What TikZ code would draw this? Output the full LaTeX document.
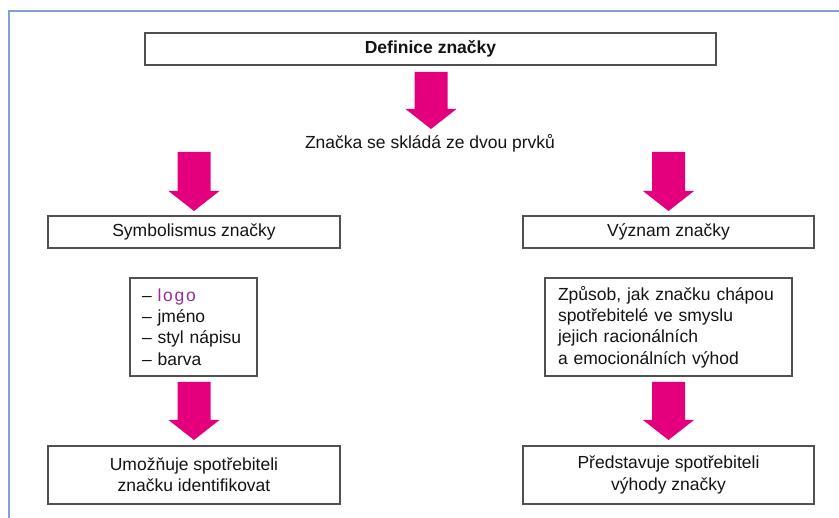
\documentclass[tikz,border=0pt]{standalone}
\usepackage{fontspec}
\setmainfont{Liberation Sans}
\definecolor{mag}{RGB}{228,0,124}
\definecolor{logoc}{RGB}{155,45,145}
\definecolor{framec}{RGB}{130,160,215}
\definecolor{boxline}{RGB}{80,80,80}
\definecolor{txt}{RGB}{20,20,20}
\newcommand\blockarrow[3]{\fill[mag] ({#1-16.5},#2) -- ({#1+16.5},#2) -- ({#1+16.5},{#3-20}) -- ({#1+25.5},{#3-20}) -- (#1,#3) -- ({#1-25.5},{#3-20}) -- ({#1-16.5},{#3-20}) -- cycle;}
\begin{document}
\begin{tikzpicture}[x=1pt,y=-1pt,
  box/.style={draw=boxline, line width=1.3pt, fill=white, text=txt, font=\fontsize{17.5}{21.3}\selectfont, inner sep=0pt, align=center},
  lbl/.style={text=txt, font=\fontsize{17.5}{21.3}\selectfont, inner sep=0pt}]
\useasboundingbox (0,0) rectangle (839,518);
\fill[white, overlay] (-5,-5) rectangle (845,525);
\draw[framec, line width=1.5pt, overlay] (9,525) -- (9,11) -- (845,11);

\node[box, minimum width=571pt, minimum height=32pt, font=\bfseries\fontsize{17.5}{21}\selectfont] (def) at (430.5,49) {Definice značky};
\node[lbl] (dvou) at (430,143) {Značka se skládá ze dvou prvků};
\node[box, minimum width=292pt, minimum height=32pt] (sym) at (194,232) {Symbolismus značky};
\node[box, minimum width=291pt, minimum height=32pt] (vyz) at (668.5,232) {Význam značky};
\node[box, text width=103pt, inner xsep=12pt, minimum height=98pt, align=left] (list) at (193.5,327)
  {– \textcolor{logoc}{\addfontfeatures{LetterSpace=10}logo}\\– jméno\\– styl nápisu\\– barva};
\node[box, text width=221pt, inner xsep=13pt, minimum height=98pt, align=left] (zpu) at (668.5,327)
  {Způsob, jak značku chápou\\spotřebitelé ve smyslu\\jejich racionálních\\a emocionálních výhod};
\node[box, minimum width=292pt, minimum height=58pt] (umo) at (194,475) {Umožňuje spotřebiteli\\značku identifikovat};
\node[box, minimum width=291pt, minimum height=58pt] (pre) at (668.5,475) {Představuje spotřebiteli\\výhody značky};

\blockarrow{431}{72}{129}
\blockarrow{194}{152}{211}
\blockarrow{668.5}{152}{211}
\blockarrow{194}{382}{440}
\blockarrow{668.5}{382}{440}
\end{tikzpicture}
\end{document}
